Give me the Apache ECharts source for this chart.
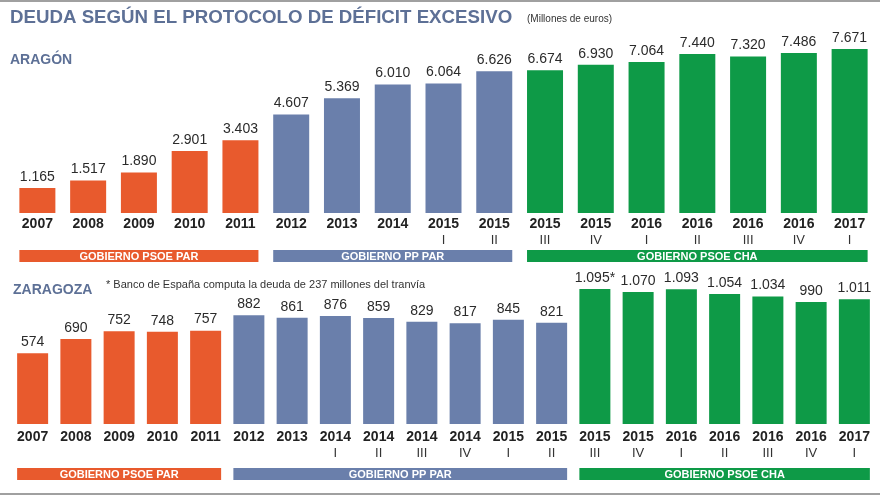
<!DOCTYPE html>
<html>
<head>
<meta charset="utf-8">
<script src="https://cdn.jsdelivr.net/npm/echarts@6/dist/echarts.min.js"></script>
<style>
html,body{margin:0;padding:0;background:#fff;}
#c{width:880px;height:495px;}
</style>
</head>
<body>
<div id="c"></div>
<script>
// ---- DATA ----
var aragonYears   = ['2007','2008','2009','2010','2011','2012','2013','2014','2015','2015','2015','2015','2016','2016','2016','2016','2017'];
var aragonQuarter = ['','','','','','','','','I','II','III','IV','I','II','III','IV','I'];
var aragonValues  = [1165,1517,1890,2901,3403,4607,5369,6010,6064,6626,6674,6930,7064,7440,7320,7486,7671];
var aragonGroup   = [0,0,0,0,0,1,1,1,1,1,2,2,2,2,2,2,2];

var zgzYears   = ['2007','2008','2009','2010','2011','2012','2013','2014','2014','2014','2014','2015','2015','2015','2015','2016','2016','2016','2016','2017'];
var zgzQuarter = ['','','','','','','','I','II','III','IV','I','II','III','IV','I','II','III','IV','I'];
var zgzValues  = [574,690,752,748,757,882,861,876,859,829,817,845,821,1095,1070,1093,1054,1034,990,1011];
var zgzNotes   = ['','','','','','','','','','','','','','*','','','','','',''];
var zgzGroup   = [0,0,0,0,0,1,1,1,1,1,1,1,1,2,2,2,2,2,2,2];

var groupNames  = ['GOBIERNO PSOE PAR','GOBIERNO PP PAR','GOBIERNO PSOE CHA'];
var groupColors = ['#e85a2d','#6a7fab','#0e9a47'];

var titleText = 'DEUDA SEGÚN EL PROTOCOLO DE DÉFICIT EXCESIVO';
var unitText = '(Millones de euros)';
var panel1Text = 'ARAGÓN';
var panel2Text = 'ZARAGOZA';
var noteText = '* Banco de España computa la deuda de 237 millones del tranvía';

// ---- helpers ----
function fmt(n){
  if(n < 1000) return String(n);
  var t = Math.floor(n/1000), r = n % 1000;
  return t + '.' + (r<10?'00':r<100?'0':'') + r;
}
function cats(years, q){
  return years.map(function(y,i){ return i + '|' + y + '|' + q[i]; });
}
var FONT = '"Liberation Sans", Arial, Helvetica, sans-serif';
var titleColor = '#5d7096';

function axisLabel(margin){
  return {
    interval:0, margin:margin,
    formatter:function(v){
      var p = v.split('|');
      return p[2] ? '{y|'+p[1]+'}\n{r|'+p[2]+'}' : '{y|'+p[1]+'}';
    },
    rich:{
      y:{fontFamily:FONT,fontSize:14,fontWeight:'bold',color:'#222',lineHeight:16},
      r:{fontFamily:FONT,fontSize:13,color:'#333',lineHeight:16}
    }
  };
}

var chart = echarts.init(document.getElementById('c'), null, {renderer:'canvas'});

var option = {
  animation:false,
  backgroundColor:'#ffffff',
  grid:[
    {left:12, right:5, top:42, height:171},
    {left:11, right:4, top:276, height:148}
  ],
  xAxis:[
    {type:'category', gridIndex:0, data:cats(aragonYears,aragonQuarter),
     axisLine:{show:false}, axisTick:{show:false}, axisLabel:axisLabel(3)},
    {type:'category', gridIndex:1, data:cats(zgzYears,zgzQuarter),
     axisLine:{show:false}, axisTick:{show:false}, axisLabel:axisLabel(5)}
  ],
  yAxis:[
    {type:'value', gridIndex:0, min:0, max:8000, show:false, splitLine:{show:false}},
    {type:'value', gridIndex:1, min:0, max:1200, show:false, splitLine:{show:false}}
  ],
  series:[
    {type:'bar', xAxisIndex:0, yAxisIndex:0, barWidth:36,
     data:aragonValues.map(function(v,i){return {value:v, itemStyle:{color:groupColors[aragonGroup[i]]}};}),
     label:{show:true, position:'top', distance:4, fontFamily:FONT, fontSize:14, color:'#2b2b2b',
       formatter:function(p){return fmt(p.value);}}},
    {type:'bar', xAxisIndex:1, yAxisIndex:1, barWidth:31,
     data:zgzValues.map(function(v,i){return {value:v, itemStyle:{color:groupColors[zgzGroup[i]]}};}),
     label:{show:true, position:'top', distance:4, fontFamily:FONT, fontSize:14, color:'#2b2b2b',
       formatter:function(p){return fmt(p.value) + zgzNotes[p.dataIndex];}}}
  ]
};
chart.setOption(option);

function banners(axisIdx, groups, nCat, barW, y, h){
  var out = [];
  var cat = axisIdx===0 ? cats(aragonYears,aragonQuarter) : cats(zgzYears,zgzQuarter);
  for(var g=0; g<groupNames.length; g++){
    var first=-1, last=-1;
    for(var i=0;i<nCat;i++){ if(groups[i]===g){ if(first<0) first=i; last=i; } }
    if(first<0) continue;
    var x0 = chart.convertToPixel({xAxisIndex:axisIdx}, cat[first]) - barW/2;
    var x1 = chart.convertToPixel({xAxisIndex:axisIdx}, cat[last]) + barW/2;
    out.push({type:'rect', shape:{x:x0, y:y, width:x1-x0, height:h}, style:{fill:groupColors[g]}});
    out.push({type:'text', x:(x0+x1)/2, y:y+h/2+0.5,
      style:{text:groupNames[g], fill:'#ffffff', font:'bold 11px '+FONT, align:'center', verticalAlign:'middle'}});
  }
  return out;
}

var g = [];
g.push({type:'rect', shape:{x:0,y:0,width:880,height:2}, style:{fill:'#a0a0a0'}});
g.push({type:'rect', shape:{x:0,y:493,width:880,height:2}, style:{fill:'#a0a0a0'}});
g.push({type:'text', x:10, y:18, style:{text:titleText, fill:titleColor, font:'bold 18.7px '+FONT, verticalAlign:'middle'}});
g.push({type:'text', x:527, y:19, style:{text:unitText, fill:'#333', font:'10px '+FONT, verticalAlign:'middle'}});
g.push({type:'text', x:10, y:60, style:{text:panel1Text, fill:titleColor, font:'bold 14px '+FONT, verticalAlign:'middle'}});
g.push({type:'text', x:13, y:290, style:{text:panel2Text, fill:titleColor, font:'bold 14px '+FONT, verticalAlign:'middle'}});
g.push({type:'text', x:106, y:285, style:{text:noteText, fill:'#333', font:'11px '+FONT, verticalAlign:'middle'}});
g = g.concat(banners(0, aragonGroup, aragonValues.length, 36, 250, 12));
g = g.concat(banners(1, zgzGroup, zgzValues.length, 31, 468, 12));

chart.setOption({graphic:g});
</script>
</body>
</html>
